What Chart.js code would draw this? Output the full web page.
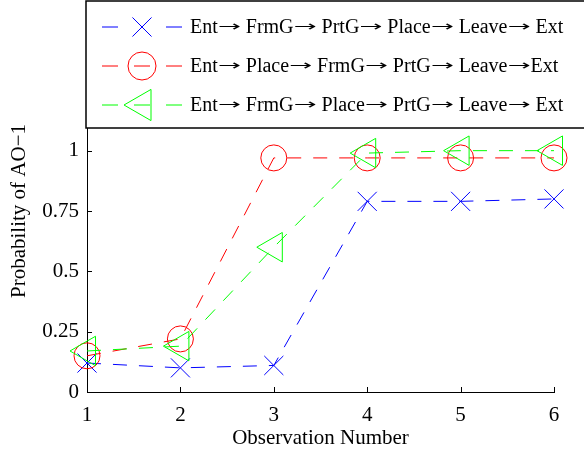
<!DOCTYPE html>
<html>
<head>
<meta charset="utf-8">
<script src="https://cdn.jsdelivr.net/npm/chart.js@4.4.1/dist/chart.umd.min.js"></script>
<style>
  html, body { margin: 0; padding: 0; background: #fff; }
  #wrap { width: 584px; height: 452px; }
</style>
</head>
<body>
<div id="wrap"><canvas id="chart" width="584" height="452"></canvas></div>
<script>
// observation numbers
var observations = [1, 2, 3, 4, 5, 6];
// probability of AO-1 for each ordering
var seqA = [0.12, 0.10, 0.11, 0.79, 0.79, 0.80];
var seqB = [0.15, 0.22, 0.97, 0.97, 0.97, 0.97];
var seqC = [0.17, 0.19, 0.60, 0.99, 1.00, 1.00];
var labels = [
    "Ent\u2192 FrmG\u2192 PrtG\u2192 Place\u2192 Leave\u2192 Ext",
    "Ent\u2192 Place\u2192 FrmG\u2192 PrtG\u2192 Leave\u2192Ext",
    "Ent\u2192 FrmG\u2192 Place\u2192 PrtG\u2192 Leave\u2192 Ext"
];
var yTicks = [0, 0.25, 0.5, 0.75, 1];

var serif = '"Liberation Serif", "Times New Roman", serif';

function toPoints(vals) {
    return observations.map(function (x, i) { return { x: x, y: vals[i] }; });
}

function makeSet(label, vals, color, style, radius, rot, order) {
    return {
        label: label,
        data: toPoints(vals),
        borderColor: color,
        backgroundColor: 'rgba(0,0,0,0)',
        borderWidth: 1,
        borderDash: [14, 12],
        pointStyle: style,
        pointRadius: radius,
        pointHoverRadius: radius,
        pointRotation: rot,
        pointBorderColor: color,
        pointBackgroundColor: 'rgba(0,0,0,0)',
        pointBorderWidth: 1,
        fill: false,
        tension: 0,
        clip: false,
        order: order
    };
}

// ticks drawn inside the axes, matlab style
var innerTicks = {
    id: 'innerTicks',
    beforeDatasetsDraw: function (chart) {
        var ctx = chart.ctx, a = chart.chartArea;
        var xs = chart.scales.x, ys = chart.scales.y;
        ctx.save();
        ctx.strokeStyle = '#000';
        ctx.lineWidth = 1;
        ctx.beginPath();
        observations.forEach(function (v) {
            var px = Math.round(xs.getPixelForValue(v)) + 0.5;
            ctx.moveTo(px, a.bottom);
            ctx.lineTo(px, a.bottom - 5);
        });
        yTicks.forEach(function (v) {
            var py = Math.round(ys.getPixelForValue(v)) + 0.5;
            ctx.moveTo(a.left, py);
            ctx.lineTo(a.left + 5, py);
        });
        ctx.stroke();
        ctx.restore();
    }
};

function marker(ctx, style, r, rot, x, y) {
    ctx.beginPath();
    if (style === 'crossRot') {
        var d = r * Math.SQRT1_2;
        ctx.moveTo(x - d, y - d); ctx.lineTo(x + d, y + d);
        ctx.moveTo(x + d, y - d); ctx.lineTo(x - d, y + d);
    } else if (style === 'circle') {
        ctx.arc(x, y, r, 0, Math.PI * 2);
    } else {
        var rad = rot * Math.PI / 180;
        for (var k = 0; k < 3; k++) {
            var px = x + Math.sin(rad) * r, py = y - Math.cos(rad) * r;
            if (k === 0) ctx.moveTo(px, py); else ctx.lineTo(px, py);
            rad += Math.PI * 2 / 3;
        }
        ctx.closePath();
    }
    ctx.stroke();
}

// label text with long thin arrows like the original typesetting
function drawLabel(ctx, text, x, y) {
    var parts = text.split('\u2192');
    parts.forEach(function (p, k) {
        ctx.font = '20px ' + serif;
        ctx.fillText(p, x, y);
        x += ctx.measureText(p).width;
        if (k < parts.length - 1) {
            ctx.font = '18px "DejaVu Sans"';
            var w = ctx.measureText('\u2192').width;
            ctx.save();
            ctx.translate(x, y - 1);
            ctx.scale(23 / w, 0.8);
            ctx.fillText('\u2192', 0, 0);
            ctx.restore();
            x += 23;
        }
    });
}

var legendBox = {
    id: 'legendBox',
    afterDraw: function (chart) {
        var ctx = chart.ctx;
        ctx.save();
        ctx.fillStyle = '#fff';
        ctx.fillRect(86, 1, 600, 127);
        ctx.strokeStyle = '#000';
        ctx.lineWidth = 1.5;
        ctx.strokeRect(86, 1, 600, 127);
        ctx.textBaseline = 'middle';
        chart.data.datasets.forEach(function (ds, i) {
            var y = 27 + i * 39;
            ctx.strokeStyle = ds.borderColor;
            ctx.lineWidth = 1;
            ctx.setLineDash([]);
            ctx.beginPath();
            ctx.moveTo(102, y); ctx.lineTo(118, y);
            ctx.moveTo(166, y); ctx.lineTo(182, y);
            if (ds.pointStyle !== 'crossRot') { ctx.moveTo(134, y); ctx.lineTo(150, y); }
            ctx.stroke();
            marker(ctx, ds.pointStyle, ds.pointStyle === 'triangle' ? 18 : (ds.pointStyle === 'circle' ? 14 : 13.5), ds.pointRotation, 142, y);
            ctx.fillStyle = '#000';
            drawLabel(ctx, ds.label, 190, y + 1);
        });
        ctx.restore();
    }
};

var ctx = document.getElementById('chart').getContext('2d');
var myChart = new Chart(ctx, {
    type: 'line',
    data: {
        datasets: [
            makeSet(labels[0], seqA, '#0000ff', 'crossRot', 13.5, 0, 3),
            makeSet(labels[1], seqB, '#ff0000', 'circle', 13, 0, 2),
            makeSet(labels[2], seqC, '#00ff00', 'triangle', 17, -90, 1)
        ]
    },
    options: {
        responsive: false,
        animation: false,
        events: [],
        layout: { padding: { top: 30, right: 30, left: 0, bottom: 0 } },
        plugins: {
            legend: { display: false },
            tooltip: { enabled: false }
        },
        scales: {
            x: {
                type: 'linear',
                min: 1,
                max: 6,
                afterFit: function (s) { s.height = 60; },
                ticks: {
                    stepSize: 1,
                    padding: 11,
                    color: '#000',
                    font: { family: serif, size: 21 }
                },
                grid: { drawOnChartArea: false, drawTicks: false },
                border: { display: true, color: '#000', width: 1 },
                title: {
                    display: true,
                    text: 'Observation Number',
                    color: '#000',
                    font: { family: serif, size: 21 },
                    padding: { top: 0, bottom: 1 }
                }
            },
            y: {
                type: 'linear',
                min: 0,
                max: 1.5,
                afterFit: function (s) { s.width = 87; },
                afterBuildTicks: function (s) {
                    s.ticks = yTicks.map(function (v) { return { value: v }; });
                },
                ticks: {
                    padding: 8,
                    color: '#000',
                    font: { family: serif, size: 21 },
                    callback: function (v) { return String(v); }
                },
                grid: { drawOnChartArea: false, drawTicks: false },
                border: { display: true, color: '#000', width: 1 },
                title: {
                    display: true,
                    text: 'Probability of AO\u22121',
                    color: '#000',
                    font: { family: serif, size: 21 },
                    padding: { top: 7, bottom: 0 }
                }
            }
        }
    },
    plugins: [innerTicks, legendBox]
});
</script>
</body>
</html>
